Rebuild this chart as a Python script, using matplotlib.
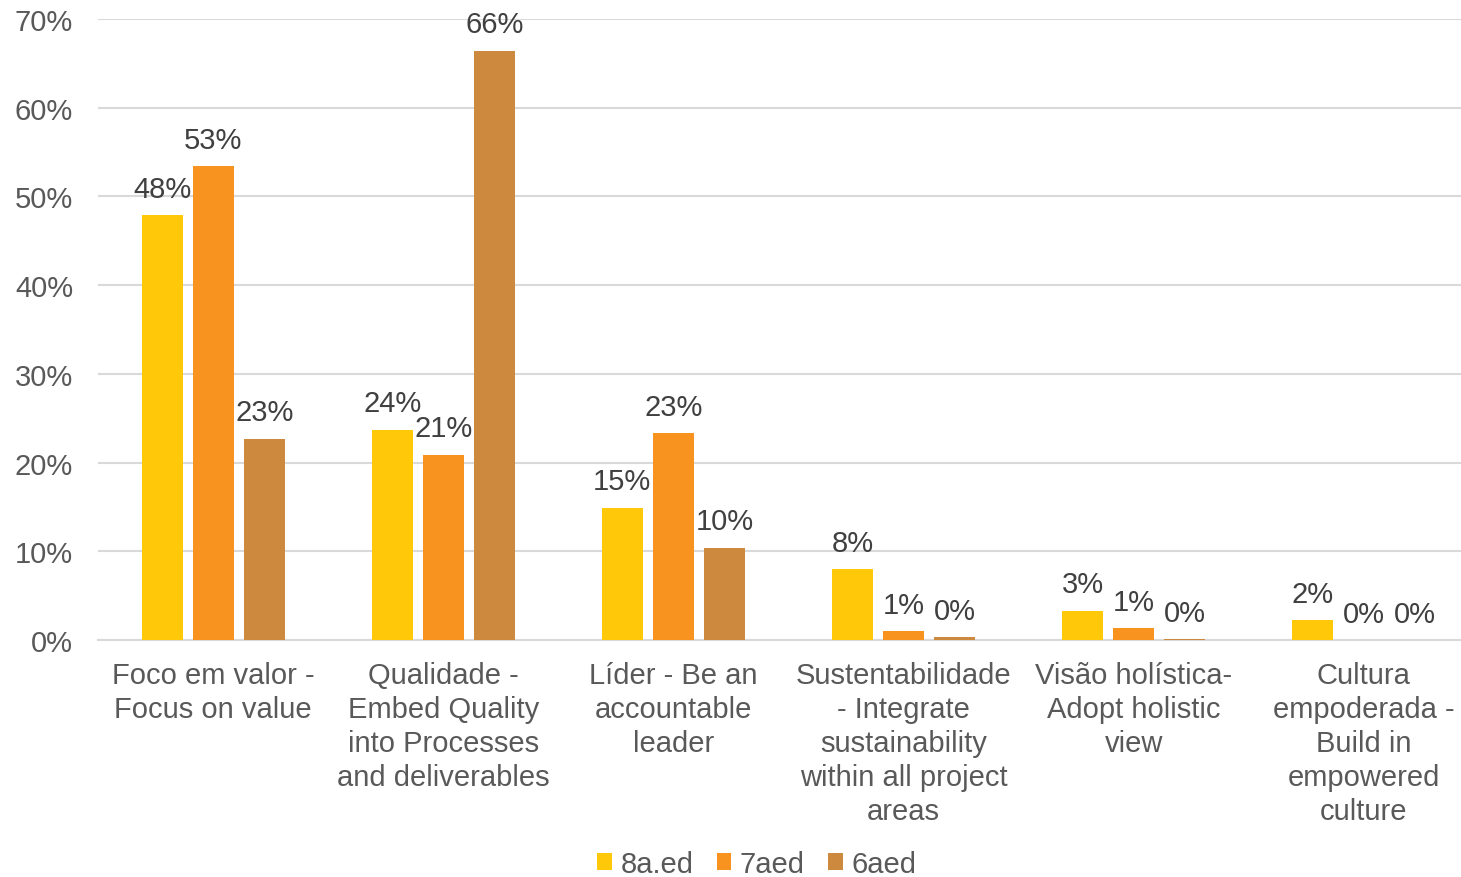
import matplotlib.pyplot as plt
import numpy as np

plt.rcParams["font.family"] = ["Liberation Sans", "DejaVu Sans"]

categories = [
    "Foco em valor -\nFocus on value",
    "Qualidade -\nEmbed Quality\ninto Processes\nand deliverables",
    "Líder - Be an\naccountable\nleader",
    "Sustentabilidade\n- Integrate\nsustainability\nwithin all project\nareas",
    "Visão holística-\nAdopt holistic\nview",
    "Cultura\nempoderada -\nBuild in\nempowered\nculture",
]
series_names = ["8a.ed", "7aed", "6aed"]
ed8 = [47.9, 23.7, 14.9, 8.0, 3.3, 2.25]
ed7 = [53.4, 20.9, 23.3, 1.0, 1.35, 0.0]
ed6 = [22.7, 66.4, 10.4, 0.3, 0.1, 0.0]
yticks = [0, 10, 20, 30, 40, 50, 60, 70]

COLORS = ["#FFC90A", "#F7931E", "#CD8A3F"]
LABEL_C = "#404040"
AXIS_C = "#595959"
GRID_C = "#D9D9D9"
FS = 21

fig = plt.figure(figsize=(14.61, 8.78), dpi=100)
# axes runs a little past the right edge of the figure, as in the original
ax = fig.add_axes([0.0671, 0.2699, 0.9452, 0.7073])

x = np.arange(len(categories))
width = 0.178
offsets = [-0.222, 0.0, 0.222]
for vals, name, color, off in zip([ed8, ed7, ed6], series_names, COLORS, offsets):
    bars = ax.bar(x + off, vals, width, color=color, label=name, zorder=3)
    for b, v in zip(bars, vals):
        ax.annotate(f"{round(v):.0f}%", (b.get_x() + b.get_width() / 2, v),
                    xytext=(0, 9), textcoords="offset points",
                    ha="center", va="bottom", fontsize=FS, color=LABEL_C)

ax.set_xlim(-0.5, len(categories) - 0.5)
ax.set_ylim(0, 70)
ax.set_yticks(yticks)
ax.set_yticklabels([f"{t}%" for t in yticks], fontsize=FS, color=AXIS_C)
ax.set_xticks(x)
ax.set_xticklabels(categories, fontsize=FS, color=AXIS_C, linespacing=1.27)
ax.tick_params(axis="both", length=0)
ax.tick_params(axis="x", pad=15)
ax.tick_params(axis="y", pad=18)
ax.yaxis.grid(True, color=GRID_C, linewidth=1.5, zorder=0)
for s in ["top", "right", "left"]:
    ax.spines[s].set_visible(False)
ax.spines["bottom"].set_color(GRID_C)
ax.spines["bottom"].set_linewidth(1.5)

fig.legend(loc="lower center", bbox_to_anchor=(0.518, -0.031), ncol=3, frameon=False,
           fontsize=FS, handlelength=0.5, handleheight=0.5, handletextpad=0.3,
           columnspacing=0.8, labelcolor=AXIS_C)

fig.savefig("out.png", dpi=100)
